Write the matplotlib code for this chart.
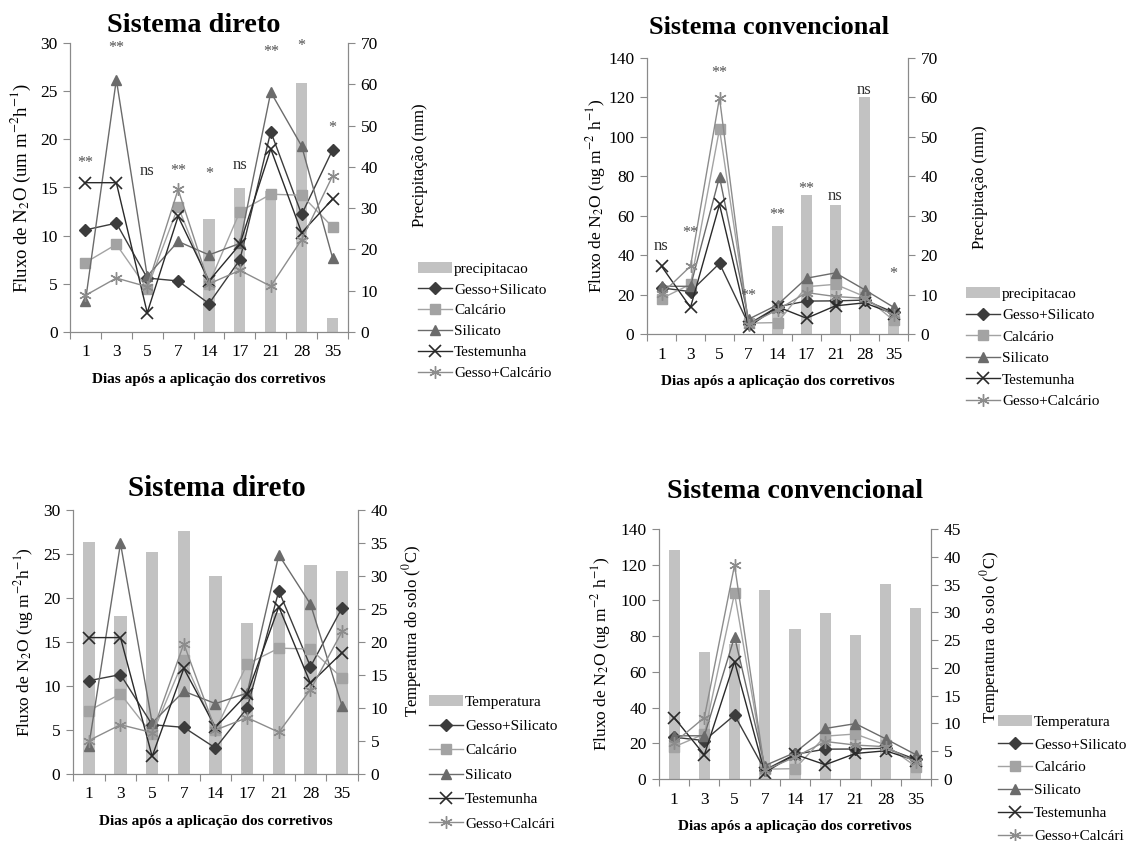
import matplotlib
matplotlib.use('Agg')
import matplotlib.pyplot as plt
from matplotlib.patches import Patch

plt.rcParams['font.family'] = ['Liberation Serif', 'DejaVu Serif']
plt.rcParams['mathtext.fontset'] = 'stix'

dias = ['1', '3', '5', '7', '14', '17', '21', '28', '35']

# fluxo de N2O - sistema direto
direto_gesso_silicato = [10.6, 11.3, 5.6, 5.3, 2.95, 7.5, 20.8, 12.2, 18.9]
direto_calcario = [7.2, 9.1, 4.5, 13.0, 5.0, 12.5, 14.3, 14.2, 10.9]
direto_silicato = [3.2, 26.2, 5.8, 9.4, 8.0, 9.2, 24.9, 19.3, 7.7]
direto_testemunha = [15.5, 15.5, 2.0, 12.0, 5.3, 9.1, 19.0, 10.3, 13.8]
direto_gesso_calcario = [3.8, 5.6, 4.7, 14.8, 5.0, 6.4, 4.75, 9.6, 16.2]

# fluxo de N2O - sistema convencional
conv_gesso_silicato = [23.4, 21.5, 35.8, 5.0, 13.8, 16.7, 16.8, 17.2, 11.0]
conv_calcario = [18.0, 25.2, 104.0, 5.5, 5.8, 24.0, 25.2, 19.0, 7.0]
conv_silicato = [24.2, 24.2, 79.7, 7.5, 14.8, 28.3, 31.0, 22.5, 13.6]
conv_testemunha = [34.4, 13.5, 65.7, 3.6, 13.8, 8.0, 14.3, 15.8, 10.3]
conv_gesso_calcario = [20.3, 34.4, 119.8, 4.8, 12.3, 21.0, 19.0, 18.1, 9.4]

# precipitacao (mm) e temperatura do solo (C)
precip_direto = [0, 0, 0, 0, 27.3, 35.0, 34.2, 60.3, 3.4]
precip_conv = [0, 0, 0, 0, 27.3, 35.2, 32.7, 60.1, 3.6]
temp_direto = [35.2, 24.0, 33.6, 36.8, 30.0, 22.9, 24.4, 31.6, 30.8]
temp_conv = [41.2, 22.9, 24.3, 34.1, 27.0, 29.9, 26.0, 35.1, 30.7]

# significancia
sig_direto = ['**', '**', 'ns', '**', '*', 'ns', '**', '*', '*']
sig_direto_y = [17.5, 29.5, 16.7, 16.7, 16.4, 17.3, 29.1, 29.7, 21.2]
sig_conv = ['ns', '**', '**', '**', '**', '**', 'ns', 'ns', '*']
sig_conv_y = [44.4, 51.0, 132.5, 19.5, 60.5, 73.7, 70.0, 124.0, 30.5]

series_names = ['Gesso+Silicato', 'Calcário', 'Silicato', 'Testemunha', 'Gesso+Calcário']
series_style = [
    dict(color='#3c3c3c', marker='D', ms=6),
    dict(color='#a3a3a3', marker='s', ms=7),
    dict(color='#6b6b6b', marker='^', ms=7.5),
    dict(color='#2a2a2a', marker='x', ms=8, mew=1.2),
    dict(color='#8c8c8c', marker=(6, 2, 0), ms=9, mew=1.0),
]
bar_color = '#c2c2c2'
spine_color = '#8a8a8a'

fig = plt.figure(figsize=(11.26, 8.41), dpi=100)
W, H = 1126.0, 841.0


def rect_px(x0, y0, x1, y1):
    return [x0 / W, 1 - y1 / H, (x1 - x0) / W, (y1 - y0) / H]


def panel(box, title, title_xy, title_size, series, bars, bar_label, ymax, ystep, rmax, rstep,
          ylabel, ylabel_size, ylabel_pad, rlabel, rlabel_xy, legend_xy, legend_names,
          legend_space, bar_width, sig=None, sig_y=None):
    rect = rect_px(*box)
    ax = fig.add_axes(rect)
    ax2 = ax.twinx()
    ax.set_zorder(ax2.get_zorder() + 1)
    ax.patch.set_visible(False)

    x = [i + 0.5 for i in range(len(dias))]
    ax2.bar(x, bars, width=bar_width, color=bar_color, label=bar_label)
    handles = []
    for vals, name, st in zip(series, legend_names, series_style):
        ln, = ax.plot(x, vals, lw=1.0, label=name, **st)
        handles.append(ln)

    ax.set_xlim(0, len(dias))
    ax.set_ylim(0, ymax)
    ax2.set_ylim(0, rmax)
    ax.set_yticks(range(0, ymax + 1, ystep))
    ax2.set_yticks(range(0, rmax + 1, rstep))
    ax.set_xticks(range(len(dias) + 1))
    ax.set_xticklabels([])
    ax.set_xticks(x, minor=True)
    ax.set_xticklabels(dias, minor=True)
    ax.tick_params(axis='x', which='minor', length=0, pad=9, labelsize=12.5)
    ax.tick_params(axis='x', which='major', length=5, color=spine_color)
    ax.tick_params(axis='y', length=5, color=spine_color, labelsize=12.5, pad=4)
    ax2.tick_params(axis='y', length=5, color=spine_color, labelsize=12.5, pad=4)

    for a in (ax, ax2):
        a.spines['top'].set_visible(False)
        for s in ('left', 'right', 'bottom'):
            a.spines[s].set_color(spine_color)

    ax.set_xlabel('Dias após a aplicação dos corretivos', fontsize=11, fontweight='bold', labelpad=9)
    ax.set_ylabel(ylabel, fontsize=ylabel_size, labelpad=ylabel_pad)
    fig.text(rlabel_xy[0] / W, 1 - rlabel_xy[1] / H, rlabel, rotation=90,
             ha='center', va='center', fontsize=12)
    fig.text(title_xy[0] / W, 1 - title_xy[1] / H, title, ha='center', va='center',
             fontsize=title_size, fontweight='bold')

    if sig is not None:
        for xi, s, yi in zip(x, sig, sig_y):
            ax.text(xi, yi, s, ha='center', va='center', fontsize=12 if s == 'ns' else 11.5,
                    color='#303030' if s == 'ns' else '#505050', clip_on=False)

    bar_handle = Patch(facecolor=bar_color, edgecolor='none')
    fig.legend([bar_handle] + handles, [bar_label] + legend_names, loc='upper left',
               bbox_to_anchor=(legend_xy[0] / W, 1 - legend_xy[1] / H), frameon=False,
               fontsize=11, handlelength=2.2, handletextpad=0.15, labelspacing=legend_space,
               borderpad=0, borderaxespad=0)
    return ax


direto = [direto_gesso_silicato, direto_calcario, direto_silicato, direto_testemunha, direto_gesso_calcario]
conv = [conv_gesso_silicato, conv_calcario, conv_silicato, conv_testemunha, conv_gesso_calcario]
names_short = series_names[:4] + ['Gesso+Calcári']

# precipitacao
panel((70, 43, 348, 332), 'Sistema direto', (194, 25), 20.3, direto, precip_direto,
      'precipitacao', 30, 5, 70, 10, 'Fluxo de N$_2$O (um m$^{-2}$h$^{-1}$)', 13.5, 5,
      'Precipitação (mm)', (420, 165), (418, 262), series_names, 0.47, 0.36,
      sig_direto, sig_direto_y)
panel((647, 58, 908, 334), 'Sistema convencional', (769, 28), 18.9, conv, precip_conv,
      'precipitacao', 140, 20, 70, 10, 'Fluxo de N$_2$O (ug m$^{-2}$ h$^{-1}$)', 12.5, 0,
      'Precipitação (mm)', (980, 187), (966, 287), series_names, 0.51, 0.37,
      sig_conv, sig_conv_y)

# temperatura do solo
panel((73, 510, 358, 774), 'Sistema direto', (217, 488), 21, direto, temp_direto,
      'Temperatura', 30, 5, 40, 5, 'Fluxo de N$_2$O (ug m$^{-2}$h$^{-1}$)', 12.5, 5,
      'Temperatura do solo ($^0$C)', (412, 631), (429, 695), names_short, 0.70, 0.39)
panel((659, 529, 931, 779), 'Sistema convencional', (795, 492), 20.2, conv, temp_conv,
      'Temperatura', 140, 20, 45, 5, 'Fluxo de N$_2$O (ug m$^{-2}$ h$^{-1}$)', 12.5, 5,
      'Temperatura do solo ($^0$C)', (990, 637), (998, 715), names_short, 0.60, 0.37)

fig.savefig('out.png', dpi=100)
